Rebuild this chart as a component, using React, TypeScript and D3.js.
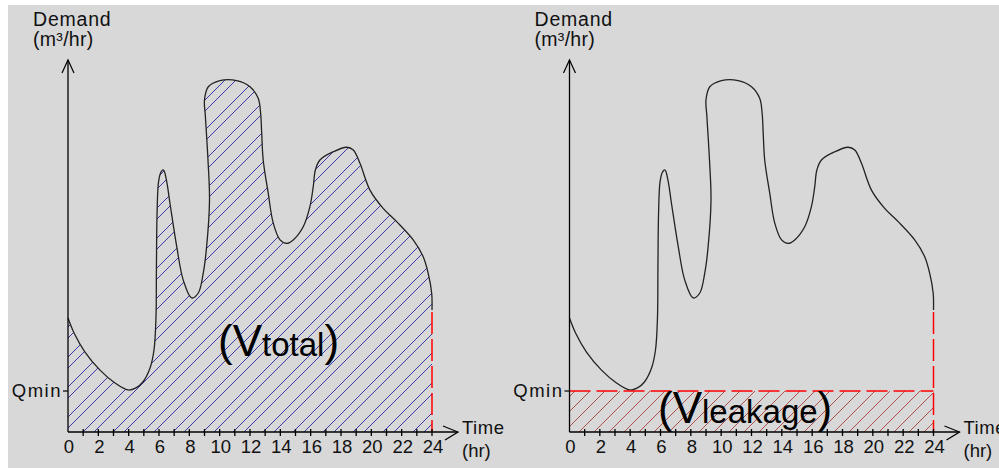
import React from "react";
import * as d3 from "d3";

// ---- data ----
const curveHours = [0, 0.40, 1.12, 2.11, 3.10, 3.96, 4.48, 4.94, 5.41, 5.67, 5.80, 5.83, 5.87, 5.97, 6.13, 6.30, 6.49, 6.72, 7.17, 7.60, 8.15, 8.59, 8.92, 9.14, 9.33, 9.23, 9.06, 9.00, 9.25, 10.02, 11.12, 12.00, 12.54, 12.70, 12.77, 12.87, 13.20, 13.53, 13.98, 14.42, 14.85, 15.51, 15.95, 16.17, 16.31, 16.61, 17.49, 18.37, 18.81, 19.25, 19.91, 20.78, 21.67, 22.76, 23.42, 23.75, 23.98, 24.0];
const curveDemand = [55.6, 48.3, 39.0, 30.2, 23.9, 20.5, 21.5, 24.4, 31.2, 40.0, 55.6, 79.0, 105.9, 122.0, 126.8, 127.8, 122.9, 111.7, 90.4, 74.1, 65.4, 67.8, 77.6, 90.4, 113.2, 132.7, 153.8, 162.0, 168.4, 171.4, 171.4, 168.4, 162.8, 155.6, 145.9, 132.7, 116.6, 102.0, 93.7, 92.0, 93.7, 100.1, 109.9, 119.7, 127.8, 132.7, 136.7, 138.9, 137.6, 131.1, 118.0, 109.1, 102.6, 93.7, 85.5, 77.4, 67.7, 59.5];
const qMin = 20;
const tickHours = [1, 2, 3, 4, 5, 6, 7, 8, 9, 10, 11, 12, 13, 14, 15, 16, 17, 18, 19, 20, 21, 22, 23, 24];
const tickLabels = ["0", "2", "4", "6", "8", "10", "12", "14", "16", "18", "20", "22", "24"];
const labelHours = [0, 2, 4, 6, 8, 10, 12, 14, 16, 18, 20, 22, 24];
const panelOrigins = [68, 569.5];

const FONT = "'Liberation Sans', Arial, sans-serif";

function Panel({ x0, variant }: { x0: number; variant: "total" | "leakage" }) {
  const x = d3.scaleLinear().domain([0, 24]).range([x0, x0 + 364]);
  const y = d3.scaleLinear().domain([0, 180]).range([432, 63]);
  const pts: [number, number][] = curveHours.map((h, i) => [x(h), y(curveDemand[i])]);
  const line = d3.line().curve(d3.curveCatmullRom.alpha(0.5));
  const curvePath = line(pts) as string;
  const areaPath = curvePath + `L${x(24)},${y(0)}L${x(0)},${y(0)}Z`;
  const yTop = 60;
  const xEnd = x0 + 390;
  const endY = y(curveDemand[curveDemand.length - 1]);
  return (
    <g>
      {variant === "total" && <path d={areaPath} fill="url(#blueHatch)" stroke="none" />}
      {variant === "leakage" && (
        <rect x={x(0)} y={y(qMin)} width={x(24) - x(0)} height={y(0) - y(qMin)} fill="url(#redHatch)" />
      )}
      <path d={curvePath} fill="none" stroke="#222" strokeWidth={1.3} />
      {/* red dashed vertical at 24h */}
      <line x1={x(24)} x2={x(24)} y1={endY + 2} y2={y(0)} stroke="#ff0000" strokeWidth={1.5} strokeDasharray="22,5" />
      {variant === "leakage" && (
        <line x1={x(0)} x2={x(24)} y1={y(qMin)} y2={y(qMin)} stroke="#ff0000" strokeWidth={1.5} strokeDasharray="21,6" />
      )}
      {/* axes */}
      <line x1={x0} x2={x0} y1={y(0)} y2={yTop} stroke="#000" strokeWidth={1.3} />
      <polyline points={`${x0 - 6},${yTop + 13} ${x0},${yTop} ${x0 + 6},${yTop + 13}`} fill="none" stroke="#000" strokeWidth={1.2} />
      <line x1={x0} x2={xEnd} y1={y(0)} y2={y(0)} stroke="#000" strokeWidth={1.5} />
      <polyline points={`${xEnd - 15},${y(0) - 6} ${xEnd},${y(0)} ${xEnd - 13},${y(0) + 8}`} fill="none" stroke="#000" strokeWidth={1.2} />
      {tickHours.map((h) => (
        <line key={h} x1={x(h)} x2={x(h)} y1={y(0) - 3} y2={y(0) + 4} stroke="#000" strokeWidth={1.3} />
      ))}
      {labelHours.map((h, i) => (
        <text key={h} x={x(h) + 1} y={453} fontSize={18.5} textAnchor="middle" fontFamily={FONT} fill="#111">
          {tickLabels[i]}
        </text>
      ))}
      {/* Qmin */}
      <line x1={x0 - 5} x2={x0} y1={y(qMin)} y2={y(qMin)} stroke="#000" strokeWidth={1.2} />
      <text x={x0 - 6} y={y(qMin) + 6} fontSize={18.5} textAnchor="end" fontFamily={FONT} fill="#111" letterSpacing={1.5}>
        Qmin
      </text>
      {/* axis titles */}
      <text x={x0 - 35} y={26} fontSize={19.5} fontFamily={FONT} fill="#111" letterSpacing={0.8}>Demand</text>
      <text x={x0 - 35} y={46} fontSize={19.5} fontFamily={FONT} fill="#111" letterSpacing={0.3}>(m³/hr)</text>
      <text x={xEnd + 4} y={434} fontSize={18.5} fontFamily={FONT} fill="#111" letterSpacing={0.5}>Time</text>
      <text x={xEnd + 4} y={457} fontSize={18.5} fontFamily={FONT} fill="#111">(hr)</text>
      {variant === "total" ? (
        <text x={x0 + 150} y={356} fontFamily={FONT} fill="#000">
          <tspan fontSize={44}>(V</tspan>
          <tspan fontSize={33}>total</tspan>
          <tspan fontSize={44}>)</tspan>
        </text>
      ) : (
        <text x={x0 + 88.5} y={423} fontFamily={FONT} fill="#000">
          <tspan fontSize={44}>(V</tspan>
          <tspan fontSize={33}>leakage</tspan>
          <tspan fontSize={44}>)</tspan>
        </text>
      )}
    </g>
  );
}

function pairedLines(offsets: number[], period: number) {
  const out: JSX.Element[] = [];
  offsets.forEach((c, j) => {
    for (let k = -1; k <= 2; k++) {
      const cc = c + k * period;
      out.push(<line key={`${j}-${k}`} x1={-2} y1={cc + 2} x2={cc + 2} y2={-2} />);
    }
  });
  return out;
}

export default function App() {
  return (
    <svg width={999} height={468} style={{ position: "absolute", left: 0, top: 0 }}>
      <defs>
        <pattern id="blueHatch" patternUnits="userSpaceOnUse" width={30} height={30}>
          <g stroke="#3a3aa6" strokeWidth={1}>{pairedLines([5, 16], 30)}</g>
        </pattern>
        <pattern id="redHatch" patternUnits="userSpaceOnUse" width={15} height={15}>
          <g stroke="#a83838" strokeWidth={0.85}>{pairedLines([6], 15)}</g>
        </pattern>
      </defs>
      <rect x={0} y={0} width={999} height={468} fill="#ffffff" />
      <rect x={8} y={5} width={991} height={463} fill="#d8d8d8" />
      {panelOrigins.map((o, i) => (
        <Panel key={i} x0={o} variant={i === 0 ? "total" : "leakage"} />
      ))}
    </svg>
  );
}
